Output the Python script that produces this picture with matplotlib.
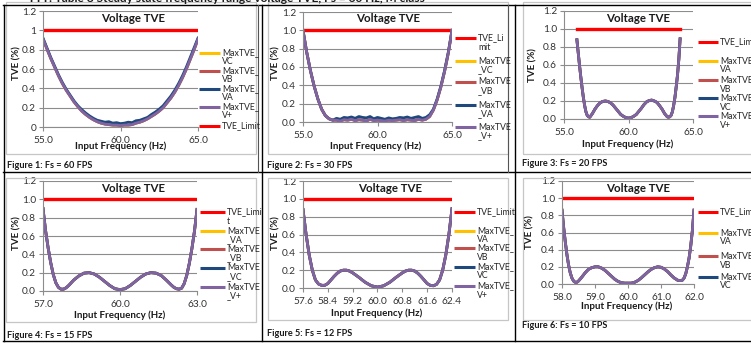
import matplotlib
matplotlib.use("Agg")
import matplotlib.pyplot as plt
from matplotlib.lines import Line2D
from matplotlib.patches import Rectangle

plt.rcParams['font.family'] = ['Lato', 'DejaVu Sans']

W, H = 751, 343

# ---- data -------------------------------------------------------------

# Fs = 60 FPS, 55..65 Hz
fs60_freq = [55.0, 55.25, 55.5, 55.75, 56.0, 56.25, 56.5, 56.75, 57.0, 57.25,
             57.5, 57.75, 58.0, 58.25, 58.5, 58.75, 59.0, 59.25, 59.5, 59.75,
             60.0, 60.25, 60.5, 60.75, 61.0, 61.25, 61.5, 61.75, 62.0, 62.25,
             62.5, 62.75, 63.0, 63.25, 63.5, 63.75, 64.0, 64.25, 64.5, 64.75, 65.0]
fs60_va = [0.92, 0.82, 0.72, 0.63, 0.54, 0.46, 0.39, 0.33, 0.27, 0.22,
           0.18, 0.145, 0.115, 0.09, 0.07, 0.06, 0.05, 0.055, 0.04, 0.045,
           0.035, 0.04, 0.05, 0.045, 0.065, 0.07, 0.085, 0.10, 0.13, 0.155,
           0.185, 0.22, 0.27, 0.32, 0.38, 0.45, 0.53, 0.62, 0.72, 0.82, 0.92]
fs60_vpos = [0.91, 0.81, 0.71, 0.62, 0.53, 0.45, 0.38, 0.32, 0.26, 0.21,
             0.165, 0.13, 0.10, 0.075, 0.055, 0.04, 0.03, 0.025, 0.02, 0.02,
             0.015, 0.02, 0.02, 0.025, 0.04, 0.05, 0.065, 0.085, 0.11, 0.135,
             0.165, 0.20, 0.25, 0.30, 0.36, 0.43, 0.51, 0.60, 0.70, 0.80, 0.91]

# Fs = 30 FPS, 55..65 Hz
fs30_freq = fs60_freq
fs30_va = [1.0, 0.76, 0.56, 0.39, 0.25, 0.14, 0.07, 0.035, 0.02,
           0.04, 0.03, 0.05, 0.045, 0.055, 0.04, 0.06, 0.05, 0.045, 0.06, 0.035, 0.05,
           0.04, 0.03, 0.045, 0.035, 0.04, 0.05, 0.045, 0.055, 0.04, 0.05, 0.06,
           0.04, 0.05, 0.08, 0.14, 0.25, 0.39, 0.56, 0.76, 1.0]
fs30_vpos = [1.0, 0.76, 0.56, 0.39, 0.25, 0.14, 0.07, 0.035, 0.02,
             0.02, 0.01, 0.025, 0.02, 0.03, 0.015, 0.025, 0.02, 0.01, 0.03, 0.015, 0.02,
             0.015, 0.01, 0.02, 0.015, 0.02, 0.025, 0.015, 0.025, 0.02, 0.015, 0.03,
             0.02, 0.03, 0.06, 0.13, 0.24, 0.38, 0.55, 0.75, 1.0]

# Fs = 20 FPS, 56..64 Hz
fs20_freq = [56.0, 56.1, 56.2, 56.3, 56.4, 56.5, 56.6, 56.7, 56.8, 56.9, 57.0,
             57.2, 57.4, 57.6, 57.8, 58.0, 58.2, 58.4, 58.6, 58.8, 59.0, 59.2, 59.4,
             59.6, 59.8, 60.0, 60.2, 60.4, 60.6, 60.8, 61.0, 61.2, 61.4, 61.6, 61.8,
             62.0, 62.2, 62.4, 62.6, 62.8, 63.0, 63.1, 63.2, 63.3, 63.4, 63.5, 63.6,
             63.7, 63.8, 63.9, 64.0]
fs20_tve = [0.88, 0.74, 0.60, 0.47, 0.35, 0.24, 0.15, 0.08, 0.04, 0.025, 0.02,
            0.06, 0.11, 0.15, 0.18, 0.195, 0.20, 0.195, 0.18, 0.155, 0.12, 0.085, 0.05,
            0.03, 0.015, 0.01, 0.015, 0.03, 0.05, 0.085, 0.12, 0.16, 0.19, 0.205, 0.21,
            0.20, 0.185, 0.15, 0.11, 0.06, 0.025, 0.02, 0.025, 0.04, 0.08, 0.15, 0.24,
            0.36, 0.49, 0.66, 0.89]

# Fs = 15 FPS, 57..63 Hz
fs15_freq = [57.0, 57.1, 57.2, 57.3, 57.4, 57.5, 57.6, 57.7, 57.8, 57.9, 58.0,
             58.2, 58.4, 58.6, 58.8, 59.0, 59.2, 59.4, 59.6, 59.8, 60.0, 60.2, 60.4,
             60.6, 60.8, 61.0, 61.2, 61.4, 61.6, 61.8, 62.0, 62.1, 62.2, 62.3, 62.4,
             62.5, 62.6, 62.7, 62.8, 62.9, 63.0]
fs15_tve = [0.90, 0.66, 0.47, 0.31, 0.18, 0.09, 0.04, 0.02, 0.02, 0.035, 0.06,
            0.12, 0.165, 0.195, 0.20, 0.185, 0.15, 0.105, 0.06, 0.025, 0.015, 0.025, 0.06,
            0.105, 0.15, 0.185, 0.20, 0.195, 0.17, 0.12, 0.065, 0.04, 0.025, 0.02, 0.03,
            0.08, 0.17, 0.30, 0.46, 0.65, 0.89]

# Fs = 12 FPS, 57.6..62.4 Hz
fs12_freq = [57.6, 57.7, 57.8, 57.9, 58.0, 58.1, 58.2, 58.3, 58.4, 58.5, 58.6,
             58.7, 58.8, 58.9, 59.0, 59.1, 59.2, 59.4, 59.6, 59.8, 60.0, 60.2, 60.4,
             60.6, 60.8, 60.9, 61.0, 61.1, 61.2, 61.3, 61.4, 61.5, 61.6, 61.7, 61.8,
             61.9, 62.0, 62.1, 62.2, 62.3, 62.4]
fs12_tve = [0.88, 0.60, 0.37, 0.20, 0.09, 0.045, 0.03, 0.03, 0.05, 0.09, 0.13,
            0.165, 0.19, 0.20, 0.20, 0.19, 0.17, 0.12, 0.065, 0.025, 0.01, 0.025, 0.065,
            0.12, 0.17, 0.19, 0.20, 0.20, 0.19, 0.165, 0.13, 0.09, 0.05, 0.03, 0.025,
            0.04, 0.09, 0.20, 0.37, 0.60, 0.89]

# Fs = 10 FPS, 58..62 Hz
fs10_freq = [58.0, 58.05, 58.1, 58.15, 58.2, 58.25, 58.3, 58.35, 58.4, 58.45, 58.5,
             58.6, 58.7, 58.8, 58.9, 59.0, 59.1, 59.2, 59.3, 59.4, 59.5, 59.6, 59.7,
             59.8, 59.9, 60.0, 60.1, 60.2, 60.3, 60.4, 60.5, 60.6, 60.7, 60.8, 60.9,
             61.0, 61.1, 61.2, 61.3, 61.4, 61.5, 61.55, 61.6, 61.65, 61.7, 61.75, 61.8,
             61.85, 61.9, 61.95, 62.0]
fs10_tve = [0.86, 0.66, 0.49, 0.34, 0.22, 0.13, 0.07, 0.035, 0.02, 0.02, 0.035,
            0.08, 0.13, 0.17, 0.19, 0.20, 0.20, 0.185, 0.16, 0.125, 0.09, 0.055, 0.03,
            0.015, 0.01, 0.01, 0.01, 0.02, 0.04, 0.07, 0.105, 0.14, 0.17, 0.19, 0.20,
            0.195, 0.175, 0.145, 0.105, 0.07, 0.045, 0.04, 0.04, 0.045, 0.07, 0.12, 0.20,
            0.30, 0.44, 0.62, 0.86]

tve_limit = [1.0, 1.0]

captions = ["Figure 1: Fs = 60 FPS", "Figure 2: Fs = 30 FPS", "Figure 3: Fs = 20 FPS",
            "Figure 4: Fs = 15 FPS", "Figure 5: Fs = 12 FPS", "Figure 6: Fs = 10 FPS"]

C_VA_Y = "#FFC000"   # yellow
C_VB = "#C0504D"     # muted red
C_NAVY = "#1F497D"   # dark blue
C_VPOS = "#8064A2"   # purple
C_LIM = "#FF0000"

# ---- helpers ----------------------------------------------------------

def fx(x):
    return x / W


def fy(y):
    return 1 - y / H


def ax_at(fig, x0, y0, x1, y1):
    return fig.add_axes([fx(x0), fy(y1), (x1 - x0) / W, (y1 - y0) / H])


def fig_line(fig, xs, ys, **kw):
    fig.add_artist(Line2D([fx(v) for v in xs], [fy(v) for v in ys],
                          transform=fig.transFigure, **kw))


def style_axes(ax, xlim, xticks, xlabels, ylabels):
    ax.set_xlim(*xlim)
    ax.set_ylim(0, 1.2)
    ax.set_yticks([0, 0.2, 0.4, 0.6, 0.8, 1.0, 1.2])
    ax.set_yticklabels(ylabels)
    ax.set_xticks(xticks)
    ax.set_xticklabels(xlabels)
    ax.grid(axis="y", color="#8c8c8c", lw=0.8)
    ax.set_axisbelow(True)
    for s in ("top", "right"):
        ax.spines[s].set_visible(False)
    for s in ("left", "bottom"):
        ax.spines[s].set_color("#8c8c8c")
        ax.spines[s].set_linewidth(0.8)
    ax.tick_params(axis="both", labelsize=7.3, colors="#8c8c8c", labelcolor="#333333",
                   length=3, width=0.8)
    ax.tick_params(axis="y", pad=2)
    ax.tick_params(axis="x", pad=3.5)
    ax.patch.set_alpha(0)


def legend(fig, x0, x1, entries, dy=9):
    for y, label, color in entries:
        fig_line(fig, [x0, x1], [y, y], color=color, lw=2.2, solid_capstyle="butt")
        lines = label.split("\n")
        for i, part in enumerate(lines):
            fig.text(fx(x1 + 2), fy(y + i * dy), part, fontsize=6.3, color="#262626",
                     va="center", ha="left")


def chart_text(fig, title_xy, xlab_xy, ylab_xy):
    fig.text(fx(title_xy[0]), fy(title_xy[1]), "Voltage TVE", fontsize=8.3,
             fontweight="bold", ha="center", va="center", color="#1a1a1a")
    fig.text(fx(xlab_xy[0]), fy(xlab_xy[1]), "Input Frequency (Hz)", fontsize=7,
             fontweight="bold", ha="center", va="center", color="#1a1a1a")
    fig.text(fx(ylab_xy[0]), fy(ylab_xy[1]), "TVE (%)", fontsize=7, rotation=90,
             fontweight="bold", ha="center", va="center", color="#1a1a1a")


fig = plt.figure(figsize=(W / 100, H / 100), dpi=100)
fig.patch.set_facecolor("white")

# chart area boxes
for (x0, y0, x1, y1) in [(6, 2, 256, 154), (268, 2, 508, 154), (523, 2, 760, 154),
                         (6, 178, 256, 322), (268, 178, 508, 320), (523, 178, 760, 320)]:
    fig.add_artist(Rectangle((fx(x0), fy(y1)), (x1 - x0) / W, (y1 - y0) / H,
                             transform=fig.transFigure, fill=False,
                             edgecolor="#c6c6c6", lw=0.9))

yl_plain = ["0", "0.2", "0.4", "0.6", "0.8", "1", "1.2"]
yl_dec = ["0.0", "0.2", "0.4", "0.6", "0.8", "1.0", "1.2"]
lw_s = 2.0

# Figure 1: Fs = 60
ax = ax_at(fig, 43, 11, 198, 127)
style_axes(ax, (55, 65), [55, 60, 65], ["55.0", "60.0", "65.0"], yl_plain)
ax.plot(fs60_freq, fs60_vpos, color=C_VA_Y, lw=lw_s)
ax.plot(fs60_freq, fs60_vpos, color=C_VB, lw=lw_s)
ax.plot(fs60_freq, fs60_va, color=C_NAVY, lw=lw_s)
ax.plot(fs60_freq, fs60_vpos, color=C_VPOS, lw=lw_s)
ax.plot([55, 65], tve_limit, color=C_LIM, lw=2.4)
chart_text(fig, (133, 19), (121, 146), (17, 63))
legend(fig, 199, 220, [(53, "MaxTVE_\nVC", C_VA_Y), (71, "MaxTVE_\nVB", C_VB),
                       (89, "MaxTVE_\nVA", C_NAVY), (107, "MaxTVE_\nV+", C_VPOS),
                       (126, "TVE_Limit", C_LIM)])

# Figure 2: Fs = 30
ax = ax_at(fig, 303, 12, 452, 122)
style_axes(ax, (55, 65), [55, 60, 65], ["55.0", "60.0", "65.0"], yl_dec)
ax.plot([55, 65], tve_limit, color=C_LIM, lw=2.4)
ax.plot(fs30_freq, fs30_vpos, color=C_VA_Y, lw=lw_s)
ax.plot(fs30_freq, fs30_vpos, color=C_VB, lw=lw_s)
ax.plot(fs30_freq, fs30_va, color=C_NAVY, lw=lw_s)
ax.plot(fs30_freq, fs30_vpos, color=C_VPOS, lw=lw_s)
chart_text(fig, (388, 19), (376, 146), (276, 63))
legend(fig, 455, 476, [(38, "TVE_Li\nmit", C_LIM), (61, "MaxTVE\n_VC", C_VA_Y),
                       (82, "MaxTVE\n_VB", C_VB), (105, "MaxTVE\n_VA", C_NAVY),
                       (127, "MaxTVE\n_V+", C_VPOS)])

# Figure 3: Fs = 20
ax = ax_at(fig, 564, 11, 693, 119)
style_axes(ax, (55, 65), [55, 60, 65], ["55.0", "60.0", "65.0"], yl_dec)
ax.plot([56, 64], tve_limit, color=C_LIM, lw=2.4)
for c in (C_VA_Y, C_VB, C_NAVY, C_VPOS):
    ax.plot(fs20_freq, fs20_tve, color=c, lw=lw_s)
chart_text(fig, (638, 19), (628, 144), (533, 65))
legend(fig, 698, 718, [(42, "TVE_Limit", C_LIM), (61, "MaxTVE_\nVA", C_VA_Y),
                       (80, "MaxTVE_\nVB", C_VB), (98, "MaxTVE_\nVC", C_NAVY),
                       (116, "MaxTVE_\nV+", C_VPOS)])

# Figure 4: Fs = 15
ax = ax_at(fig, 43, 181, 197, 291)
style_axes(ax, (57, 63), [57, 60, 63], ["57.0", "60.0", "63.0"], yl_dec)
ax.plot([57, 63], tve_limit, color=C_LIM, lw=2.4)
for c in (C_VA_Y, C_VB, C_NAVY, C_VPOS):
    ax.plot(fs15_freq, fs15_tve, color=c, lw=lw_s)
chart_text(fig, (133, 189), (120, 315), (17, 233))
legend(fig, 200, 225, [(212, "TVE_Limi\nt", C_LIM), (231, "MaxTVE\n_VA", C_VA_Y),
                       (249, "MaxTVE\n_VB", C_VB), (268, "MaxTVE\n_VC", C_NAVY),
                       (287, "MaxTVE\n_V+", C_VPOS)])

# Figure 5: Fs = 12
ax = ax_at(fig, 303, 181, 452, 288)
ticks5 = [57.6, 58.4, 59.2, 60.0, 60.8, 61.6, 62.4]
style_axes(ax, (57.6, 62.4), ticks5, ["%.1f" % t for t in ticks5], yl_dec)
ax.plot([57.6, 62.4], tve_limit, color=C_LIM, lw=2.4)
for c in (C_VA_Y, C_VB, C_NAVY, C_VPOS):
    ax.plot(fs12_freq, fs12_tve, color=c, lw=lw_s)
chart_text(fig, (390, 189), (377, 313), (276, 233))
legend(fig, 454, 475, [(212, "TVE_Limit", C_LIM), (231, "MaxTVE_\nVA", C_VA_Y),
                       (248, "MaxTVE_\nVB", C_VB), (267, "MaxTVE_\nVC", C_NAVY),
                       (286, "MaxTVE_\nV+", C_VPOS)])

# Figure 6: Fs = 10
ax = ax_at(fig, 562, 181, 694, 284)
ticks6 = [58.0, 59.0, 60.0, 61.0, 62.0]
style_axes(ax, (58, 62), ticks6, ["%.1f" % t for t in ticks6], yl_dec)
ax.plot([58, 62], tve_limit, color=C_LIM, lw=2.4)
for c in (C_VA_Y, C_VB, C_NAVY, C_VPOS):
    ax.plot(fs10_freq, fs10_tve, color=c, lw=lw_s)
chart_text(fig, (638, 189), (627, 306), (530, 232))
legend(fig, 698, 718, [(212, "TVE_Limit", C_LIM), (233, "MaxTVE_\nVA", C_VA_Y),
                       (256, "MaxTVE_\nVB", C_VB), (277, "MaxTVE_\nVC", C_NAVY)])

# captions
for (x, y), cap in zip([(7, 166), (267, 166), (522, 164), (7, 336), (267, 333), (522, 326)],
                       captions):
    fig.text(fx(x), fy(y), cap, fontsize=6.6, fontweight="bold", ha="left", va="center",
             color="#1a1a1a")

# heading above the table, partly cut by the page edge
fig.text(fx(28), fy(-1.5), "TTT: Table 8 Steady state frequency range voltage TVE, Fs = 60 Hz, M class",
         fontsize=8.6, fontweight="bold", ha="left", va="center", color="#1a1a1a")

# table rules
rule = dict(color="black", lw=1.0)
fig_line(fig, [3, 751], [4.5, 4.5], **rule)
fig_line(fig, [3, 751], [172, 172], **rule)
fig_line(fig, [3, 751], [341, 341], **rule)
fig_line(fig, [3.5, 3.5], [4.5, 341], **rule)
fig_line(fig, [262, 262], [4.5, 341], **rule)
fig_line(fig, [258, 258], [4.5, 172], color="#555555", lw=0.8)
fig_line(fig, [515, 515], [4.5, 341], **rule)
fig_line(fig, [508, 508], [4.5, 172], color="#555555", lw=0.8)

fig.savefig("out.png", dpi=100)
